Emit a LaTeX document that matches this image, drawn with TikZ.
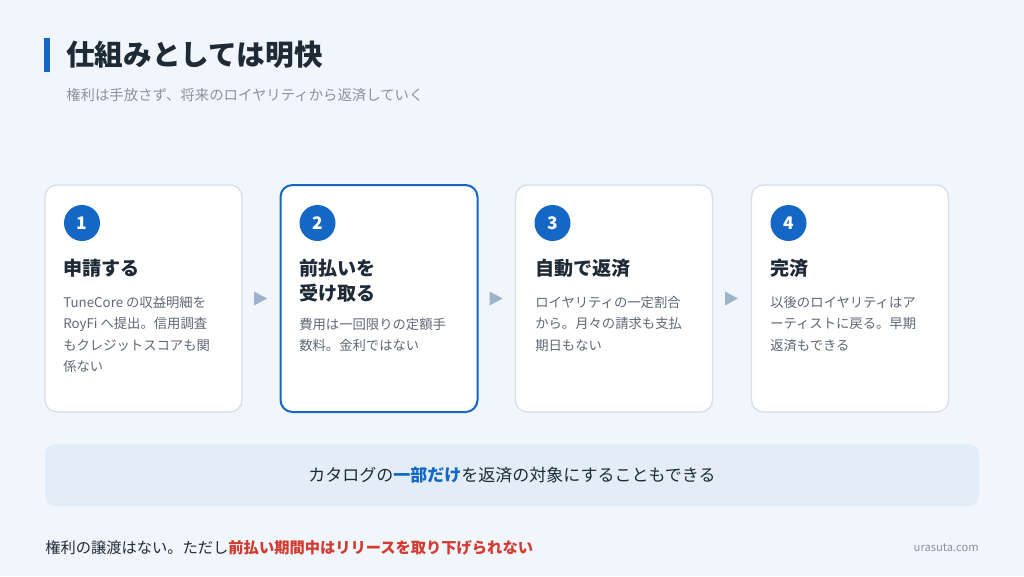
\documentclass[tikz,border=0pt]{standalone}
\usepackage{fontspec}
\setmainfont{Noto Sans CJK JP}
\usetikzlibrary{calc}

\definecolor{bgpage}{HTML}{F1F6FC}
\definecolor{accent}{HTML}{1467C4}
\definecolor{inkdark}{HTML}{1F2A37}
\definecolor{inkgray}{HTML}{5F6874}
\definecolor{inklight}{HTML}{8A939E}
\definecolor{cardline}{HTML}{D6DEE8}
\definecolor{arrowgray}{HTML}{9DB3C8}
\definecolor{bannerfill}{HTML}{E2EDF8}
\definecolor{warnred}{HTML}{D23B2F}

\begin{document}
\begin{tikzpicture}[x=0.75pt,y=0.75pt,yscale=-1,xscale=1,
  card/.style={draw=cardline, line width=1pt, fill=white, rounded corners=9pt,
    minimum width=147.75pt, minimum height=170.25pt, inner sep=0pt},
  numdot/.style={circle, fill=accent, minimum size=27pt, inner sep=0pt,
    text=white, font=\fontsize{13}{15}\selectfont\bfseries},
  cardhead/.style={inner sep=0pt, align=left, text=inkdark,
    font=\fontsize{14.3}{19}\selectfont\bfseries},
  cardbody/.style={anchor=north west, inner sep=0pt, align=left, text=inkgray,
    font=\fontsize{10}{16}\selectfont},
  stepmark/.style={fill=arrowgray}]
      \useasboundingbox (0,0) rectangle (1024,576);
      \fill[bgpage] (0,0) rectangle (1024,576);

      % Title
      \fill[accent] (44,38) rectangle (50,72);
      \node (title) [anchor=west, inner sep=0pt, text=inkdark, font=\fontsize{21.5}{25}\selectfont\bfseries] at (66,55) {仕組みとしては明快};
      \node (subtitle) [anchor=west, inner sep=0pt, text=inklight, font=\fontsize{10.8}{13}\selectfont] at (66,95) {権利は手放さず、将来のロイヤリティから返済していく};

      % Cards
      \node (card1) [card] at (143.5,298.5) {};
      \node (card2) [card, draw=accent, line width=1.5pt] at (379,298.5) {};
      \node (card3) [card] at (614,298.5) {};
      \node (card4) [card] at (850,298.5) {};

      % Number dots
      \node (dot1) [numdot] at (82,223) {1};
      \node (dot2) [numdot] at (317.5,223) {2};
      \node (dot3) [numdot] at (552.5,223) {3};
      \node (dot4) [numdot] at (788.5,223) {4};

      % Headings
      \node (head1) [cardhead, anchor=west] at (63,268) {申請する};
      \node (head2) [cardhead, anchor=north west] at (299,259) {前払いを\\受け取る};
      \node (head3) [cardhead, anchor=west] at (535,268) {自動で返済};
      \node (head4) [cardhead, anchor=west] at (770,268) {完済};

      % Text Node
      \node (body1) [cardbody] at (63,296) {TuneCore の収益明細を\\RoyFi へ提出。信用調査\\もクレジットスコアも関\\係ない};
      % Text Node
      \node (body2) [cardbody] at (299,318) {費用は一回限りの定額手\\数料。金利ではない};
      % Text Node
      \node (body3) [cardbody] at (535,296) {ロイヤリティの一定割合\\から。月々の請求も支払\\期日もない};
      % Text Node
      \node (body4) [cardbody] at (770,296) {以後のロイヤリティはア\\ーティストに戻る。早期\\返済もできる};

      % Step marks
      \fill[stepmark] ($(card1.east)!0.5!(card2.west)$) ++(-7,-7) -- ++(13,7) -- ++(-13,7) -- cycle;
      \fill[stepmark] ($(card2.east)!0.5!(card3.west)$) ++(-7,-7) -- ++(13,7) -- ++(-13,7) -- cycle;
      \fill[stepmark] ($(card3.east)!0.5!(card4.west)$) ++(-7,-7) -- ++(13,7) -- ++(-13,7) -- cycle;

      % Banner
      \node (banner) [fill=bannerfill, rounded corners=7.5pt, minimum width=700.5pt, minimum height=46.5pt, inner sep=0pt, text=inkdark, font=\fontsize{12.75}{15}\selectfont] at (512,475) {カタログの\textcolor{accent}{\bfseries 一部だけ}を返済の対象にすることもできる};

      % Footer
      \node (note) [anchor=west, inner sep=0pt, text=inkdark, font=\fontsize{11.45}{14}\selectfont] at (45,548) {権利の譲渡はない。ただし\textcolor{warnred}{\bfseries 前払い期間中はリリースを取り下げられない}};
      \node (site) [anchor=east, inner sep=0pt, text=inklight, font=\fontsize{8.4}{10}\selectfont] at (979,548) {urasuta.com};
\end{tikzpicture}
\end{document}
